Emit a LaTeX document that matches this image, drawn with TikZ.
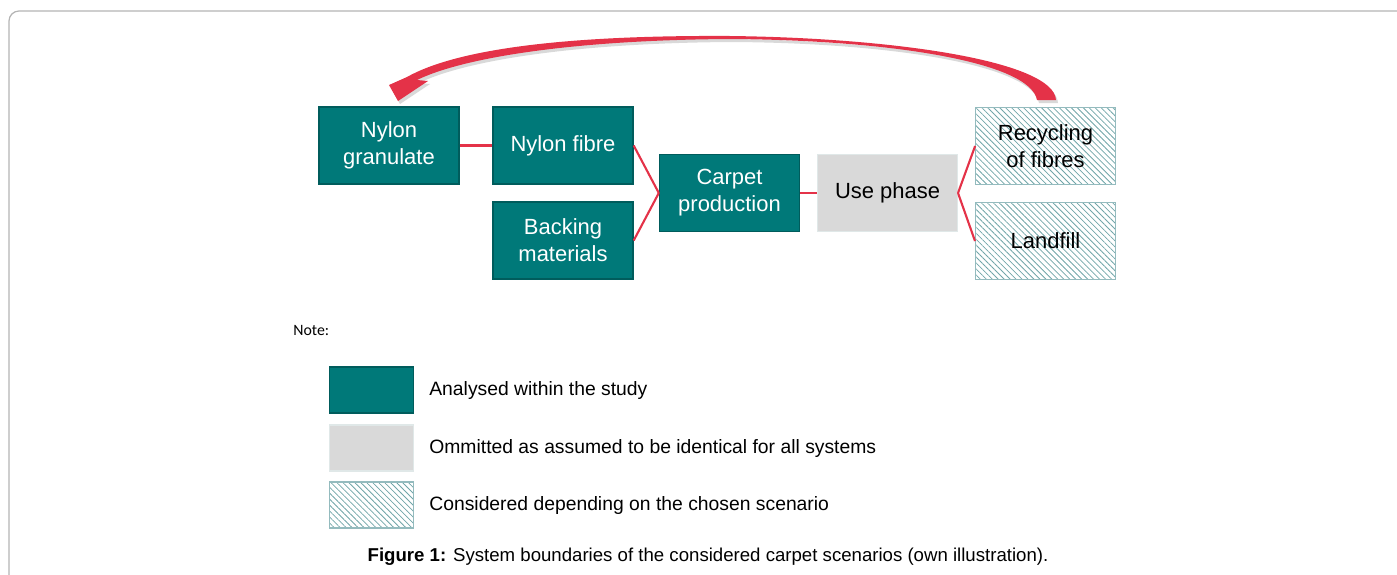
\documentclass[tikz,border=0pt]{standalone}
\usepackage{fontspec}
\setmainfont{Liberation Sans}
\newfontfamily\notefont{Carlito}
\usepackage{tikz}
\usetikzlibrary{positioning, arrows.meta, patterns.meta}

\definecolor{boxteal}{RGB}{0,121,121}
\definecolor{tealedge}{RGB}{0,92,92}
\definecolor{phasegray}{RGB}{217,217,217}
\definecolor{phaseedge}{RGB}{224,232,232}
\definecolor{hatchteal}{RGB}{112,165,168}
\definecolor{linkred}{RGB}{228,50,72}
\definecolor{framegray}{RGB}{180,180,180}

\newcommand\backarrow{(1056,100) .. controls (1054,62) and (900,38) .. (730,36)
  .. controls (560,35) and (455,50) .. (407,77) -- (389,85) -- (398,101) -- (428,81) -- (417,80)
  .. controls (462,58) and (570,40) .. (730,39) .. controls (890,40) and (1030,62) .. (1037,100) -- cycle}

\begin{document}
\begin{tikzpicture}[x=0.02cm, y=-0.02cm,
  box/.style={minimum width=2.8cm, minimum height=1.54cm, align=center, inner sep=2pt,
    font=\fontsize{12.5}{15.3}\selectfont},
  studied/.style={box, fill=boxteal, draw=tealedge, line width=0.8pt, text=white},
  omitted/.style={box, fill=phasegray, draw=phaseedge, line width=0.6pt},
  scenario/.style={box, draw=hatchteal!75, line width=0.6pt,
    pattern={Lines[angle=-45,distance=2.4pt,line width=0.45pt]}, pattern color=hatchteal},
  link/.style={draw=linkred, line width=1.2pt},
  key/.style={minimum width=1.68cm, minimum height=0.92cm, inner sep=0pt},
  keytext/.style={anchor=west, inner sep=0pt, font=\fontsize{11}{13}\selectfont}]
\useasboundingbox (0,0) rectangle (1397,575);
\draw[framegray, line width=0.7pt, rounded corners=0.2cm] (9,575) -- (9,11) -- (1397,11);

\node[studied] (gran) at (389,145.5) {Nylon\\granulate};
\node[studied] (fibre) at (563,145.5) {Nylon fibre};
\node[studied] (back) at (563,240.5) {Backing\\materials};
\node[studied] (carpet) at (729.5,193) {Carpet\\production};
\node[omitted] (use) at (887.5,193) {Use phase};
\node[scenario] (recyc) at (1045.5,146) {Recycling\\of fibres};
\node[scenario] (land) at (1045.5,241) {Landfill};

\draw[link] (gran) -- (fibre);
\draw[link] (fibre.east) -- (carpet.west);
\draw[link] (back.east) -- (carpet.west);
\draw[link] (carpet) -- (use);
\draw[link] (use.east) -- (recyc.west);
\draw[link] (use.east) -- (land.west);

\fill[black, opacity=0.15, shift={(2,3)}] \backarrow;
\fill[linkred] \backarrow;

\node[anchor=west, inner sep=0pt, font=\notefont\fontsize{9}{11}\selectfont] (note) at (293,330) {Note:};
\foreach \k/\y/\kind/\txt in {1/390/studied/Analysed within the study,
    2/448/omitted/Ommitted as assumed to be identical for all systems,
    3/505/scenario/Considered depending on the chosen scenario} {
  \node[\kind, key] (key\k) at (371.5,\y) {};
  \node[keytext] (keytext\k) at (429,\y) {\txt};
}

\node[font=\fontsize{10.6}{12}\selectfont] (caption) at (708,557)
  {\textbf{Figure 1:} System boundaries of the considered carpet scenarios (own illustration).};
\end{tikzpicture}
\end{document}
